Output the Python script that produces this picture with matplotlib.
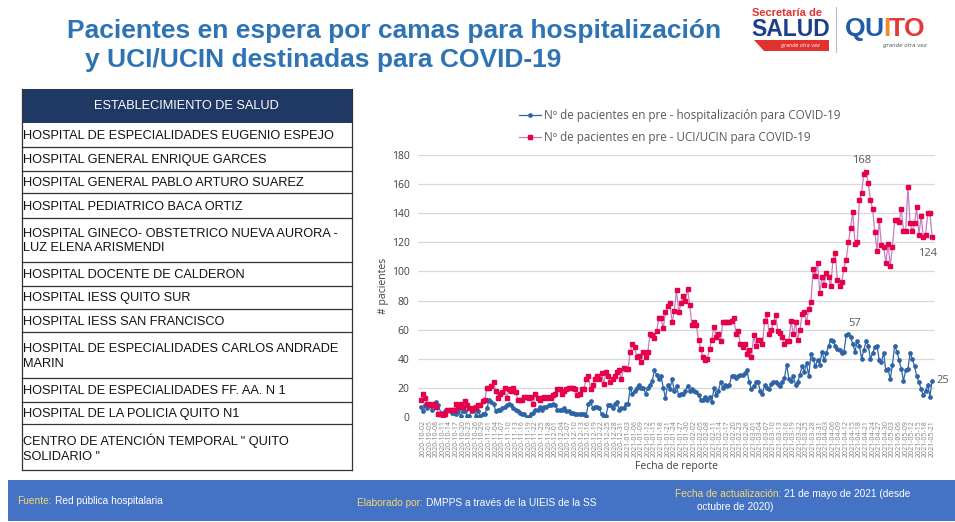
import numpy as np
import pandas as pd
import matplotlib
matplotlib.use("Agg")
import matplotlib.pyplot as plt
from matplotlib import font_manager
from matplotlib.patches import Rectangle, Polygon

# daily series (oct 2020 - may 2021)
start_date = "2020-10-01"
hosp = [7, 4, 8, 6, 8, 5, 9, 10, 8, 3, 1, 4, 5, 5, 3, 3, 2, 4, 1, 4, 4, 1, 1, 4, 5, 1, 4, 1, 2, 2,
        6, 12, 10, 9, 4, 5, 5, 6, 7, 8, 9, 8, 6, 5, 4, 3, 2, 2, 0, 0, 2, 3, 5, 5, 7, 5, 7,
        7, 8, 8, 9, 8, 5, 5, 5, 6, 4, 4, 3, 3, 2, 2, 2, 2, 2, 1, 9, 11, 6, 7, 7, 6, 2, 1, 1, 8, 8,
        6, 9, 10, 5, 6, 6, 9, 9, 20, 16, 18, 20, 22, 20, 20, 16, 20, 22, 25, 32, 29, 26, 28, 20, 13,
        22, 19, 26,
        18, 21, 15, 16, 16, 18, 21, 18, 19, 18, 17, 15, 12, 12, 14, 12, 14, 10, 20, 15, 18, 24, 20,
        22, 21, 22, 28, 28, 27, 28, 29, 29, 30, 32, 24, 19, 21, 24, 24, 18, 16, 22, 20, 19, 23, 24,
        24, 23, 21, 24, 27, 36, 26, 25, 28, 22, 24, 29, 35,
        31, 37, 28, 43, 40, 35, 39, 36, 45, 39, 44, 49, 53, 52, 49, 47, 46, 44, 45, 56, 57, 55, 50,
        45, 52, 49, 40, 46, 52, 49, 40, 44, 48, 49, 39, 38, 44, 32, 33, 26, 36, 49, 45, 39, 33, 25,
        32, 33, 44, 40, 35, 28, 24, 19, 15, 18, 22, 14, 25]
uci = [12, 16, 13, 9, 9, 8, 9, 7, 2, 2, 1, 2, 5, 5, 5, 5, 9, 7, 9, 7, 11, 8, 6, 5, 6, 7, 8, 8, 11, 12,
       20, 20, 21, 24, 18, 13, 16, 17, 20, 13, 19, 18, 20, 17, 12, 12, 12, 14, 14, 13, 14, 9, 16, 13,
       12, 13, 14,
       13, 14, 13, 15, 16, 19, 19, 16, 18, 19, 20, 20, 20, 19, 15, 16, 19, 19, 26, 28, 19, 22, 26, 28,
       26, 30, 23, 31, 28, 24, 26, 28, 31, 32, 26, 34, 33, 33, 45, 50, 48, 41, 42, 38, 45, 41, 45, 57,
       56, 54, 59, 68, 68, 61, 72, 76, 78, 65,
       73, 87, 72, 78, 83, 80, 88, 77, 63, 65, 63, 53, 47, 41, 39, 40, 47, 53, 62, 55, 57, 52, 65, 65,
       65, 65, 66, 68, 57, 59, 50, 48, 50, 43, 46, 41, 56, 49, 53, 53, 50, 66, 71, 57, 60, 65, 70, 59,
       58, 55, 50, 52, 52, 66, 57, 65, 53, 60, 71,
       72, 65, 74, 79, 102, 97, 106, 85, 96, 91, 99, 96, 90, 108, 113, 94, 90, 93, 102, 108, 120, 130,
       141, 119, 120, 149, 154, 167, 168, 161, 149, 143, 127, 114, 135, 118, 117, 106, 119, 104, 117,
       135, 135, 134, 143, 128, 128, 158, 133, 128, 133, 144, 125, 138, 124, 125, 140, 140, 124]

hosp_label = "Nº de pacientes en pre - hospitalización para COVID-19"
uci_label = "Nº de pacientes en pre - UCI/UCIN para COVID-19"

establecimientos = [
    "HOSPITAL DE ESPECIALIDADES EUGENIO ESPEJO",
    "HOSPITAL GENERAL ENRIQUE GARCES",
    "HOSPITAL GENERAL PABLO ARTURO SUAREZ",
    "HOSPITAL PEDIATRICO BACA ORTIZ",
    "HOSPITAL GINECO- OBSTETRICO NUEVA AURORA -\nLUZ ELENA ARISMENDI",
    "HOSPITAL DOCENTE DE CALDERON",
    "HOSPITAL IESS QUITO SUR",
    "HOSPITAL IESS SAN FRANCISCO",
    "HOSPITAL DE ESPECIALIDADES CARLOS ANDRADE\nMARIN",
    "HOSPITAL DE ESPECIALIDADES FF. AA. N 1",
    "HOSPITAL DE LA POLICIA QUITO N1",
    "CENTRO DE ATENCIÓN TEMPORAL \" QUITO\nSOLIDARIO \"",
]

fechas = pd.date_range(start_date, periods=len(hosp), freq="D")
x = np.arange(len(hosp))

names = {f.name for f in font_manager.fontManager.ttflist}
narrow = "Liberation Sans Narrow" if "Liberation Sans Narrow" in names else "Liberation Sans"
foot_fs = 8.2 if narrow == "Liberation Sans Narrow" else 7.3
chart_font = "Open Sans" if "Open Sans" in names else "DejaVu Sans"

W, H = 955, 522
fig = plt.figure(figsize=(W / 100, H / 100), dpi=100)
bg = fig.add_axes([0, 0, 1, 1])
bg.set_xlim(0, W)
bg.set_ylim(H, 0)
bg.axis("off")
rend = fig.canvas.get_renderer()

# title
title_c = "#2E74B5"
bg.text(67, 31, "Pacientes en espera por camas para hospitalización", fontsize=19,
        fontweight="bold", color=title_c, family="Liberation Sans", va="center")
bg.text(85, 60, "y UCI/UCIN destinadas para COVID-19", fontsize=19,
        fontweight="bold", color=title_c, family="Liberation Sans", va="center")

# logos (approximation)
bg.text(752, 13, "Secretaría de", fontsize=8, fontweight="bold", color="#E0322E",
        family="Liberation Sans", va="center")
bg.text(751, 30, "SALUD", fontsize=16.5, fontweight="bold", color="#1D3E8A",
        family="Liberation Sans", va="center")
bg.add_patch(Polygon([[754, 40], [829, 40], [829, 51], [764, 51]], closed=True,
                     color="#E0322E", lw=0))
bg.text(800, 46, "grande otra vez", fontsize=3.5, style="italic", color="white",
        ha="center", va="center")
bg.plot([836, 836], [7, 52], color="#BBBBBB", lw=0.8)
qx = 845
for ch, c in zip("QUITO", ["#1F5BAA", "#1F5BAA", "#F08A24", "#E53935", "#E53935"]):
    t = bg.text(qx, 29, ch, fontsize=19, fontweight="bold", color=c,
                family="Liberation Sans", va="center")
    qx += t.get_window_extent(renderer=rend).width - 1
bg.text(905, 46, "grande otra vez", fontsize=4, style="italic", color="#555555",
        ha="center", va="center")

# table
tl, tr = 21.5, 351.5
row_y = [123.3, 146.7, 171, 193.3, 217.7, 262.3, 285.7, 309, 332.3, 378.3, 401.7, 424.3, 469.5]
bg.add_patch(Rectangle((tl, 88.5), tr - tl, 123.3 - 88.5, color="#1F3864", lw=0))
bg.text((tl + tr) / 2, 106, "ESTABLECIMIENTO DE SALUD", color="white", fontsize=9.2,
        family="Liberation Sans", ha="center", va="center")
for y in row_y[1:]:
    bg.plot([tl, tr], [y, y], color="#333333", lw=0.9)
bg.plot([tl, tl], [88.5, row_y[-1]], color="#333333", lw=0.9)
bg.plot([tr, tr], [88.5, row_y[-1]], color="#333333", lw=0.9)
for name, y0, y1 in zip(establecimientos, row_y[:-1], row_y[1:]):
    bg.text(tl + 1.5, (y0 + y1) / 2 + 1, name, fontsize=9.2, family="Liberation Sans",
            color="#111111", va="center", ha="left", linespacing=1.3)

# footer band
bg.add_patch(Rectangle((8, 480), W - 8, 41, color="#4472C4", lw=0))
yel = "#F5D76E"


def pair(xp, yp, a, b):
    t1 = bg.text(xp, yp, a, color=yel, fontsize=foot_fs, family=narrow, va="center")
    bb = t1.get_window_extent(renderer=rend)
    bg.text(xp + bb.width + 3, yp, b, color="white", fontsize=foot_fs, family=narrow,
            va="center")


pair(17, 501, "Fuente:", "Red pública hospitalaria")
pair(357, 503, "Elaborado por:", "DMPPS a través de la UIEIS de la SS")
pair(675, 494, "Fecha de actualización:", "21 de mayo de 2021 (desde")
bg.text(697, 507, "octubre de 2020)", color="white", fontsize=foot_fs, family=narrow,
        va="center")

# chart
ax = fig.add_axes([418 / W, 1 - 417 / H, (935 - 418) / W, (417 - 155) / H])
ax.set_facecolor("none")
l1, = ax.plot(x, hosp, color="#2E64A6", lw=0.9, marker="o", ms=2.4, label=hosp_label)
l2, = ax.plot(x, uci, color="#C77DC4", lw=0.9, marker="s", ms=2.4, mfc="#E6004C",
              mec="#E6004C", label=uci_label)
ax.set_ylim(0, 180)
ax.set_xlim(-1.3, len(x) - 1 + 1.3)
ax.set_yticks(range(0, 181, 20))
ax.grid(axis="y", color="#D9D9D9", lw=0.9)
ax.set_axisbelow(True)
for s in ax.spines.values():
    s.set_visible(False)
ticks = list(range(len(x) - 1, -1, -3))[::-1]
ax.set_xticks(ticks)
ax.set_xticklabels([fechas[i].strftime("%Y-%m-%d") for i in ticks], rotation=90,
                   fontsize=5.0, color="#7F7F7F", family=chart_font)
ax.tick_params(axis="x", length=0, pad=2)
ax.tick_params(axis="y", length=0, pad=6, labelsize=7.5, labelcolor="#404040")
for t in ax.get_yticklabels():
    t.set_family(chart_font)
ax.set_ylabel("# pacientes", fontsize=7.5, color="#404040", family=chart_font, labelpad=2)
ax.set_xlabel("Fecha de reporte", fontsize=7.5, color="#404040", family=chart_font, labelpad=3)

fig.legend(handles=[l1, l2], loc="upper left", bbox_to_anchor=(508 / W, 1 - 99 / H),
           frameon=False, handlelength=1.9, handletextpad=0.3, labelspacing=0.7,
           prop={"family": chart_font, "size": 8.4}, labelcolor="#595959")

lab_c = "#595959"
iu = int(np.argmax(uci))
ih = int(np.argmax(hosp))
ax.annotate(str(uci[iu]), (iu, uci[iu]), xytext=(-4, 12), textcoords="offset pixels",
            ha="center", va="center", fontsize=8, color=lab_c, family=chart_font,
            arrowprops=dict(arrowstyle="-", color="#A6A6A6", lw=0.6, shrinkA=4, shrinkB=2))
ax.annotate(str(uci[-1]), (x[-1], uci[-1]), xytext=(-5, -17), textcoords="offset pixels",
            ha="center", va="center", fontsize=8, color=lab_c, family=chart_font,
            arrowprops=dict(arrowstyle="-", color="#A6A6A6", lw=0.6, shrinkA=4, shrinkB=2))
ax.annotate(str(hosp[ih]), (ih, hosp[ih]), xytext=(6, 11), textcoords="offset pixels",
            ha="center", va="center", fontsize=8, color=lab_c, family=chart_font)
ax.annotate(str(hosp[-1]), (x[-1], hosp[-1]), xytext=(4, 0), textcoords="offset pixels",
            ha="left", va="center", fontsize=8, color=lab_c, family=chart_font,
            annotation_clip=False)

fig.savefig("out.png", dpi=100)
